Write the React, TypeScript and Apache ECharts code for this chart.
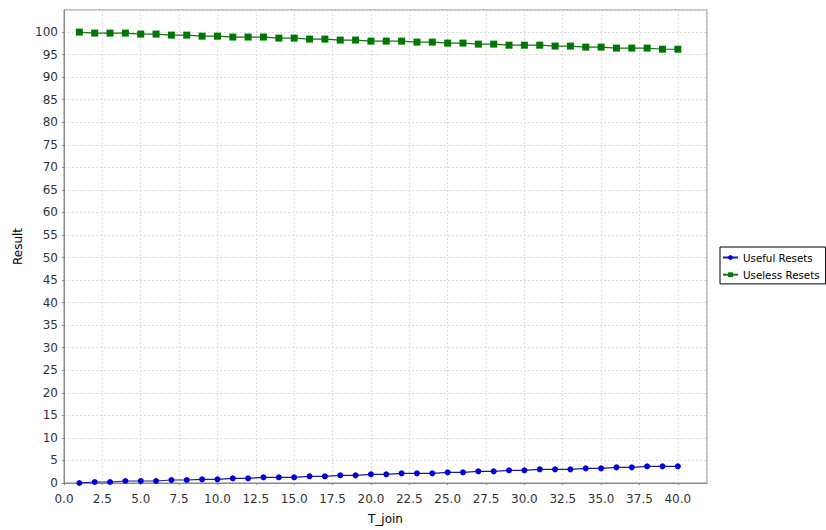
import React, { useEffect, useRef } from "react";
import * as echarts from "echarts";

const tJoin = [1, 2, 3, 4, 5, 6, 7, 8, 9, 10, 11, 12, 13, 14, 15, 16, 17, 18, 19, 20, 21, 22, 23, 24, 25, 26, 27, 28, 29, 30, 31, 32, 33, 34, 35, 36, 37, 38, 39, 40];
const usefulResets = [0.0, 0.22, 0.22, 0.44, 0.44, 0.44, 0.67, 0.67, 0.81, 0.81, 1.03, 1.03, 1.26, 1.26, 1.26, 1.48, 1.48, 1.7, 1.7, 1.92, 1.92, 2.14, 2.14, 2.14, 2.37, 2.37, 2.59, 2.59, 2.81, 2.81, 3.03, 3.03, 3.03, 3.25, 3.25, 3.47, 3.47, 3.7, 3.7, 3.7];
const uselessResets = [100.0, 99.78, 99.78, 99.78, 99.56, 99.56, 99.33, 99.33, 99.1, 99.1, 98.9, 98.9, 98.9, 98.67, 98.67, 98.45, 98.45, 98.23, 98.23, 98.0, 98.0, 98.0, 97.78, 97.78, 97.56, 97.56, 97.33, 97.33, 97.1, 97.1, 97.1, 96.9, 96.9, 96.67, 96.67, 96.45, 96.45, 96.45, 96.2, 96.2];

const FONT = "DejaVu Sans";

export default function App() {
  const ref = useRef<HTMLDivElement>(null);
  useEffect(() => {
    if (!ref.current) return;
    const chart = echarts.init(ref.current, null, { renderer: "svg" });
    const splitLine = { show: true, lineStyle: { color: "#dcdcdc", type: [2, 2] as any, width: 1 } };
    chart.setOption({
      animation: false,
      backgroundColor: "#ffffff",
      textStyle: { fontFamily: FONT },
      grid: {
        left: 64, right: 119, top: 10, bottom: 47,
        show: true, borderColor: "#888888", borderWidth: 1, backgroundColor: "#ffffff",
      },
      legend: {
        orient: "vertical",
        left: 720,
        top: 247,
        itemWidth: 15,
        itemHeight: 6,
        itemGap: 7.2,
        padding: [5.5, 6, 4.2, 2],
        borderColor: "#000000",
        borderWidth: 1,
        borderRadius: 0,
        textStyle: { fontFamily: FONT, fontSize: 10.3, color: "#000" },
        data: ["Useful Resets", "Useless Resets"],
      },
      xAxis: {
        type: "value",
        min: 0,
        max: 41.9,
        interval: 2.5,
        offset: 4,
        name: "T_join",
        nameLocation: "middle",
        nameGap: 26,
        nameTextStyle: { fontFamily: FONT, fontSize: 12, color: "#000" },
        axisLine: { show: true, lineStyle: { color: "#888888" } },
        axisTick: { show: true, length: 2, lineStyle: { color: "#888888" } },
        axisLabel: {
          fontFamily: FONT, fontSize: 12, color: "#333", margin: 6,
          showMaxLabel: false,
          formatter: (v: number) => (Math.abs(v / 2.5 - Math.round(v / 2.5)) < 1e-6 ? v.toFixed(1) : ""),
        },
        splitLine,
      },
      yAxis: {
        type: "value",
        min: 0,
        max: 104.9,
        interval: 5,
        offset: 3,
        name: "Result",
        nameLocation: "middle",
        nameGap: 33,
        nameRotate: 90,
        nameTextStyle: { fontFamily: FONT, fontSize: 12, color: "#000" },
        axisLine: { show: true, lineStyle: { color: "#888888" } },
        axisTick: { show: true, length: 2, lineStyle: { color: "#888888" } },
        axisLabel: {
          fontFamily: FONT, fontSize: 12, color: "#333", margin: 3,
          showMaxLabel: false,
          formatter: (v: number) => (Math.abs(v / 5 - Math.round(v / 5)) < 1e-6 ? String(v) : ""),
        },
        splitLine,
      },
      series: [
        {
          name: "Useful Resets",
          type: "line",
          data: tJoin.map((x, i) => [x, usefulResets[i]]),
          symbol: "circle",
          symbolSize: 6,
          color: "#0000dd",
          lineStyle: { width: 1.2, color: "#1a1aa0" },
          itemStyle: { color: "#0000dd" },
        },
        {
          name: "Useless Resets",
          type: "line",
          data: tJoin.map((x, i) => [x, uselessResets[i]]),
          symbol: "rect",
          symbolSize: 7,
          color: "#007700",
          lineStyle: { width: 1.2, color: "#1a701a" },
          itemStyle: { color: "#007700" },
        },
      ],
    });
    return () => chart.dispose();
  }, []);
  return <div ref={ref} style={{ width: 826, height: 530, position: "absolute", left: 0, top: 0 }} />;
}
